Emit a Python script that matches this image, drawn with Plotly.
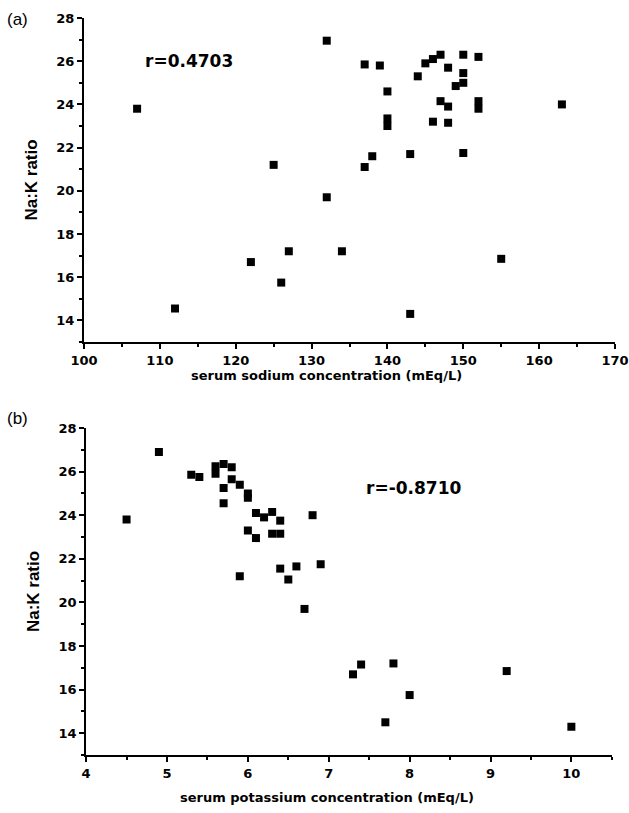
import plotly.graph_objects as go
from plotly.subplots import make_subplots

# panel (a): serum sodium vs Na:K ratio
sodium = [107, 112, 122, 125, 126, 127, 132, 132, 134, 137, 137, 138, 139, 140, 140, 140,
          143, 143, 144, 145, 146, 146, 147, 147, 148, 148, 148, 149, 150, 150, 150, 150,
          152, 152, 152, 155, 163]
ratio_a = [23.8, 14.55, 16.7, 21.2, 15.75, 17.2, 26.95, 19.7, 17.2, 21.1, 25.85, 21.6, 25.8, 24.6, 23.35, 23.0,
           14.3, 21.7, 25.3, 25.9, 26.1, 23.2, 26.3, 24.15, 25.7, 23.9, 23.15, 24.85, 26.3, 25.45, 25.0, 21.75,
           26.2, 24.15, 23.8, 16.85, 24.0]

# panel (b): serum potassium vs Na:K ratio
potassium = [4.5, 4.9, 5.3, 5.4, 5.6, 5.6, 5.7, 5.7, 5.7, 5.8, 5.8, 5.9, 5.9, 6.0, 6.0, 6.0,
             6.1, 6.1, 6.2, 6.3, 6.3, 6.4, 6.4, 6.4, 6.5, 6.6, 6.7, 6.8, 6.9, 7.3, 7.4, 7.7,
             7.8, 8.0, 9.2, 10.0]
ratio_b = [23.8, 26.9, 25.85, 25.75, 26.25, 25.9, 26.35, 25.25, 24.55, 26.2, 25.65, 25.4, 21.2, 25.0, 24.8, 23.3,
           24.1, 22.95, 23.9, 24.15, 23.15, 23.75, 23.15, 21.55, 21.05, 21.65, 19.7, 24.0, 21.75, 16.7, 17.15, 14.5,
           17.2, 15.75, 16.85, 14.3]

r_labels = ["r=0.4703", "r=-0.8710"]
x_titles = ["serum sodium concentration (mEq/L)", "serum potassium concentration (mEq/L)"]

fig = make_subplots(rows=2, cols=1)
fig.add_trace(go.Scatter(x=sodium, y=ratio_a, mode="markers",
                         marker=dict(symbol="square", size=8, color="black")), row=1, col=1)
fig.add_trace(go.Scatter(x=potassium, y=ratio_b, mode="markers",
                         marker=dict(symbol="square", size=8, color="black")), row=2, col=1)

tickfont = dict(family="DejaVu Sans", size=13, color="black", weight="bold")
titlefont = dict(family="DejaVu Sans", size=13, color="black", weight="bold")
ytitlefont = dict(family="Liberation Sans", size=17, color="black", weight="bold")

common = dict(showline=True, linewidth=2, linecolor="black", ticks="outside", ticklen=5,
              tickwidth=2, tickcolor="black", showgrid=False, zeroline=False,
              tickfont=tickfont, mirror=False, automargin=False)

fig.update_xaxes(range=[100, 170], dtick=10, domain=[0, 1],
                 minor=dict(dtick=5, ticks="outside", ticklen=3, tickwidth=2, tickcolor="black"),
                 **common, row=1, col=1)
fig.update_xaxes(range=[4, 10.5], dtick=1, domain=[0.004, 0.994],
                 minor=dict(dtick=0.5, ticks="outside", ticklen=3, tickwidth=2, tickcolor="black"),
                 **common, row=2, col=1)
fig.update_yaxes(range=[13, 28], dtick=2, tick0=14, domain=[0.5604, 1.0],
                 minor=dict(dtick=1, ticks="outside", ticklen=3, tickwidth=2, tickcolor="black"),
                 title=dict(text="Na:K ratio", font=ytitlefont, standoff=14),
                 **common, row=1, col=1)
fig.update_yaxes(range=[13, 28], dtick=2, tick0=14, domain=[0, 0.4437],
                 minor=dict(dtick=1, ticks="outside", ticklen=3, tickwidth=2, tickcolor="black"),
                 title=dict(text="Na:K ratio", font=ytitlefont, standoff=14),
                 **common, row=2, col=1)

# x axis titles sit a little left of centre in the original
fig.add_annotation(x=0.456, y=0.5156, xref="paper", yref="paper", text=x_titles[0], showarrow=False,
                   xanchor="center", yanchor="middle", font=titlefont)
fig.add_annotation(x=0.458, y=-0.0583, xref="paper", yref="paper", text=x_titles[1], showarrow=False,
                   xanchor="center", yanchor="middle", font=titlefont)

fig.add_annotation(x=107.8, y=26.0, xref="x", yref="y", text=r_labels[0], showarrow=False,
                   xanchor="left", font=dict(family="DejaVu Sans", size=17, color="black", weight="bold"))
fig.add_annotation(x=7.44, y=25.25, xref="x2", yref="y2", text=r_labels[1], showarrow=False,
                   xanchor="left", font=dict(family="DejaVu Sans", size=17, color="black", weight="bold"))
fig.add_annotation(x=-0.149, y=0.9985, xref="paper", yref="paper", text="(a)", showarrow=False,
                   xanchor="left", yanchor="middle", font=dict(family="Liberation Sans", size=17, color="black"))
fig.add_annotation(x=-0.149, y=0.457, xref="paper", yref="paper", text="(b)", showarrow=False,
                   xanchor="left", yanchor="middle", font=dict(family="Liberation Sans", size=17, color="black"))

fig.update_layout(width=629, height=813, showlegend=False,
                  margin=dict(l=84, r=14, t=18, b=58),
                  paper_bgcolor="white", plot_bgcolor="white")

# the page body has a default 8px margin; drop it so the figure fills the window
fig.write_html("out.html", config={"displayModeBar": False},
               post_script="document.body.style.margin='0';document.body.style.overflow='hidden';")
